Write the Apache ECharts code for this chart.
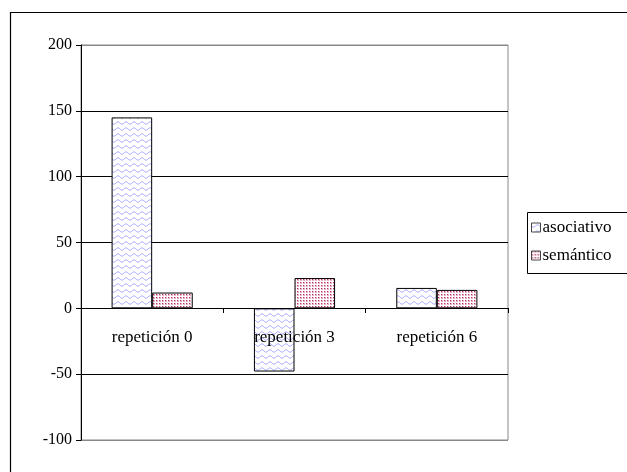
<!DOCTYPE html>
<html>
<head>
<meta charset="utf-8">
<script src="https://cdn.jsdelivr.net/npm/echarts@6/dist/echarts.min.js"></script>
<style>
  html, body { margin: 0; padding: 0; background: #fff; }
  #chart { width: 627px; height: 472px; }
</style>
</head>
<body>
<div id="chart"></div>
<script>
// Chart data
var categories = ['repetición 0', 'repetición 3', 'repetición 6'];
var seriesNames = ['asociativo', 'semántico'];
var asociativo = [145, -48, 15.5];
var semantico = [12, 23, 14];
var yMin = -100, yMax = 200, yStep = 50;

// Wavy blue fill
function waveTile() {
  var c = document.createElement('canvas');
  c.width = 8; c.height = 6;
  var g = c.getContext('2d');
  g.fillStyle = '#ffffff';
  g.fillRect(0, 0, 8, 6);
  g.strokeStyle = '#a0a0ff';
  g.lineWidth = 1;
  g.beginPath();
  for (var x = 0; x <= 8; x += 0.5) {
    var y = 3 + 1.2 * Math.sin(2 * Math.PI * x / 8);
    if (x === 0) g.moveTo(x, y); else g.lineTo(x, y);
  }
  g.stroke();
  return c;
}

// Dotted red fill
function dotTile() {
  var c = document.createElement('canvas');
  c.width = 3; c.height = 3;
  var g = c.getContext('2d');
  g.fillStyle = '#ffffff';
  g.fillRect(0, 0, 3, 3);
  g.fillStyle = '#e8b0c6';
  g.fillRect(0, 0, 2, 2);
  g.fillStyle = '#b03565';
  g.fillRect(0, 0, 1, 1);
  return c;
}

var font = 'Liberation Serif, Times New Roman, serif';
var chart = echarts.init(document.getElementById('chart'), null, { renderer: 'canvas' });
var gridTop = 45, gridHeight = 395;

function buildOption(xOffset) {
  return {
    animation: false,
    backgroundColor: '#ffffff',
    textStyle: { fontFamily: font },
    grid: {
      left: 81, top: gridTop, width: 427, height: gridHeight,
      outerBoundsMode: 'none', containLabel: false,
      show: true, borderColor: '#888888', borderWidth: 1, backgroundColor: 'transparent'
    },
    legend: {
      orient: 'vertical',
      left: 531, top: 219,
      itemWidth: 9, itemHeight: 9, itemGap: 11,
      padding: 0,
      icon: 'rect',
      itemStyle: { borderColor: '#444', borderWidth: 1 },
      textStyle: { fontFamily: font, fontSize: 17, color: '#000', padding: [0, 0, 0, -3] },
      data: seriesNames
    },
    xAxis: {
      type: 'category',
      data: categories,
      position: 'bottom',
      offset: xOffset,
      z: 5,
      axisLine: { onZero: false, lineStyle: { color: '#000', width: 1 } },
      axisTick: { show: true, length: 5, inside: false, lineStyle: { color: '#000' } },
      axisLabel: { fontFamily: font, fontSize: 17, color: '#000', margin: 21 },
      splitLine: { show: false }
    },
    yAxis: {
      type: 'value',
      min: yMin, max: yMax, interval: yStep,
      axisLine: { show: true, lineStyle: { color: '#000', width: 1 } },
      axisTick: { show: true, length: 5, lineStyle: { color: '#000' } },
      axisLabel: { fontFamily: font, fontSize: 16, color: '#000', margin: 9 },
      splitLine: {
        show: true,
        lineStyle: { color: ['#888888', '#000', '#000', '#000', '#000', '#000', '#888888'], width: 1 }
      }
    },
    series: [
      {
        name: seriesNames[0],
        type: 'bar',
        data: asociativo,
        barGap: '0%',
        barCategoryGap: '43%',
        itemStyle: { color: { image: waveTile(), repeat: 'repeat' }, borderColor: '#000', borderWidth: 1 }
      },
      {
        name: seriesNames[1],
        type: 'bar',
        data: semantico,
        barGap: '0%',
        barCategoryGap: '43%',
        itemStyle: { color: { image: dotTile(), repeat: 'repeat' }, borderColor: '#000', borderWidth: 1 }
      }
    ],
    graphic: [
      {
        type: 'rect',
        shape: { x: 10.5, y: 12.5, width: 640, height: 480 },
        style: { fill: 'none', stroke: '#000', lineWidth: 1.2 },
        silent: true, z: -1
      },
      {
        type: 'rect',
        shape: { x: 527.5, y: 212.5, width: 110, height: 61 },
        style: { fill: 'none', stroke: '#000', lineWidth: 1 },
        silent: true
      }
    ]
  };
}

chart.setOption(buildOption(0));
// Move the category axis (line, ticks, labels) up to the zero value
var zeroY = chart.convertToPixel({ yAxisIndex: 0 }, 0);
chart.setOption(buildOption(-Math.round((gridTop + gridHeight) - zeroY)));
</script>
</body>
</html>
